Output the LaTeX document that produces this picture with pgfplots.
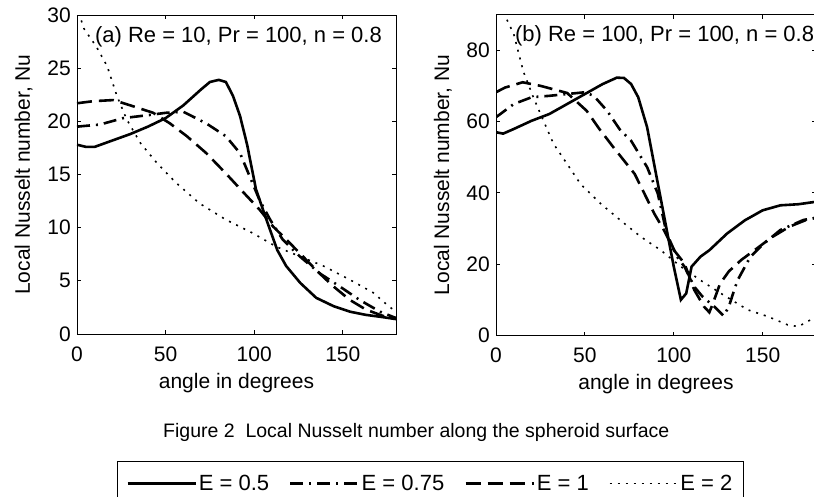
\documentclass[border=0pt]{standalone}
\usepackage{fontspec}
\setmainfont{Liberation Sans}
\usepackage{pgfplots}
\pgfplotsset{compat=1.18}
\newcommand{\tfont}{\fontsize{21}{25}\selectfont}
\pgfplotsset{
  panel/.style={
    scale only axis, anchor=south west,
    xmin=0, xmax=180, xtick={0,50,100,150},
    tick align=inside, major tick length=4pt,
    axis line style={line width=0.8pt},
    every tick/.style={line width=0.8pt, black},
    /pgf/number format/assume math mode=true,
    tick label style={font=\tfont},
    xticklabel style={anchor=base, inner sep=0pt, yshift=-27pt},
    yticklabel style={anchor=east, inner sep=0pt, xshift=-6pt},
    label style={font=\tfont},
    xlabel={angle in degrees},
    ylabel={Local Nusselt number, Nu},
    xlabel style={at={(axis description cs:0.5,0)}, anchor=base, yshift=-54pt, inner sep=0pt},
    ylabel style={at={(axis description cs:0,0.5)}, anchor=base, yshift=47pt, inner sep=0pt},
  },
  sA/.style={black, line width=2.6pt},
  sB/.style={black, line width=2.6pt, dash pattern=on 13pt off 6pt on 2pt off 6pt},
  sC/.style={black, line width=2.6pt, dash pattern=on 15pt off 7pt},
  sD/.style={black, line width=1.6pt, dash pattern=on 2pt off 6pt},
}
\begin{document}
\begin{tikzpicture}
\begin{axis}[panel, at={(77pt,-334pt)}, width=319pt, height=319pt,
  ymin=0, ymax=30, ytick={0,5,10,15,20,25,30},
  legend columns=4,
  legend style={at={(0.1254,-0.398)}, anchor=north west, draw=black,
    font=\fontsize{22}{26}\selectfont, inner xsep=9pt, inner ysep=12pt,
    /tikz/every even column/.append style={column sep=18pt}},
  legend image code/.code={\draw[#1] (0pt,0pt) -- (68pt,0pt);},
]
\addplot[sA] table {
0 17.8
5 17.6
10 17.6
15 17.9
20 18.2
30 18.8
40 19.5
50 20.3
60 21.5
70 23.0
75 23.7
80 23.9
84 23.7
88 22.4
92 20.5
96 17.8
101 13.6
107 10.7
113 7.9
118 6.4
126 4.8
135 3.4
145 2.6
154 2.1
163 1.8
172 1.6
180 1.4
};
\addlegendentry{E = 0.5}
\addplot[sB] table {
0 19.5
13 19.7
26 20.3
41 20.6
50 20.8
60 20.9
73 19.8
84 18.6
92 17.0
97.5 14.8
103 12.6
109 10.75
116 8.9
125.7 7.3
137 5.7
148 4.5
159.5 3.2
171 2.1
180 1.5
};
\addlegendentry{E = 0.75}
\addplot[sC] table {
0 21.7
9.4 21.9
20.6 22.0
32 21.4
43 20.8
52.5 19.8
62 18.6
73 17.0
84 15.1
94 13.3
103 11.7
110.7 10.1
118 8.9
125.7 7.6
135 6.0
144.5 4.5
154 3.2
163 2.3
172.6 1.7
180 1.5
};
\addlegendentry{E = 1}
\addplot[sD] table {
1 30.2
4 28.7
11 27.0
17 25.2
22.5 22.4
28 20.2
35.6 18.0
45 16.1
56 14.2
69 12.3
84 10.75
99 9.5
112.6 8.2
125.7 7.3
139 6.4
154 5.1
167 3.9
176 2.6
180 2.1
};
\addlegendentry{E = 2}
\node[anchor=base west, font=\fontsize{22}{26}\selectfont, inner sep=0pt] at (rel axis cs:0.056,0.915) {(a) Re = 10, Pr = 100, n = 0.8};
\end{axis}

\begin{axis}[panel, at={(496pt,-335.5pt)}, width=320pt, height=321pt,
  ymin=0, ymax=90, ytick={0,20,40,60,80},
]
\addplot[sA] table {
0 57
4 56.6
10 57.9
20 60.2
30 62.1
40 64.9
50 67.7
60 70.5
68 72.3
72 72.2
76 70.5
80 66.8
85 58.4
90 45.3
95 32.3
100 19.3
104 10
107 11.8
110 19.3
115 22.1
120 23.9
130 28.6
140 32.3
150 35.1
160 36.5
170 36.8
180 37.5
};
\addplot[sB] table {
0 61.2
10 64.9
20 66.8
30 67.2
40 67.7
50 68.2
55 67.2
62.5 63
70 57.5
76 54.6
85 47.2
91 39.8
96 28.6
102 22
106 19.3
111.5 13.7
116 11
123 8
128 5.5
131 8.1
134 12.8
136 15.6
143 22
150 25.5
160 29.6
173 32.4
180 33
};
\addplot[sC] table {
0 68.2
5 69.5
15 71
25 70
40 68
51 63
58 58
66 52.8
78 45.3
89 34.2
94.5 29.5
100 24
106 20.2
111.5 12.8
117 8.1
120 6.5
122 9
126 14.5
131 18
138 21.2
147 24.5
155 27.5
165 30.5
175 32.5
180 33
};
\addplot[sD] table {
4 90.5
6 88.7
10 84.5
15.4 74
21 66.8
26.7 60.2
32.4 53.7
40 48.1
47.5 42.5
58.8 37
70 32.3
81.4 27.7
92.7 23.9
104 19.3
115 15.5
126.5 11.8
141.6 7.2
153 5.3
164 3
170 2.5
177 4.4
180 5.5
};
\node[anchor=base west, font=\fontsize{22}{26}\selectfont, inner sep=0pt] at (rel axis cs:0.059,0.916) {(b) Re = 100, Pr = 100, n = 0.8};
\end{axis}
\node[anchor=base west, font=\fontsize{19.5}{23}\selectfont, inner sep=0pt] at (163pt,-437pt) {Figure 2\ \ Local Nusselt number along the spheroid surface};
\pgfresetboundingbox
\useasboundingbox (0pt,0pt) rectangle (814pt,-497pt);
\end{tikzpicture}
\end{document}
